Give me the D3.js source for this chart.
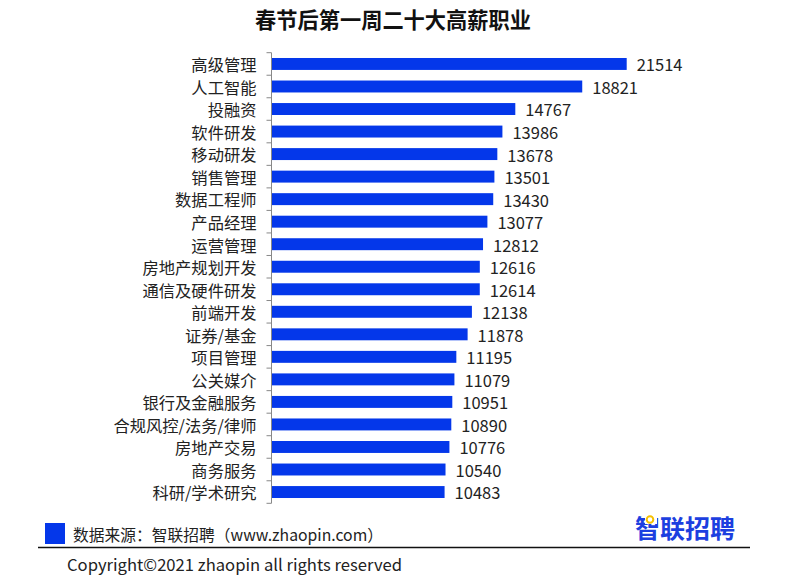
<!DOCTYPE html>
<html>
<head>
<meta charset="utf-8">
<script src="https://cdn.jsdelivr.net/npm/d3@7"></script>
<style>
  html, body { margin: 0; padding: 0; background: #fff; }
  svg { display: block; font-family: "Noto Sans CJK SC", "Noto Sans", sans-serif; }
</style>
</head>
<body>
<svg id="chart" width="791" height="587"></svg>
<script>
const title = "春节后第一周二十大高薪职业";
const categories = ["高级管理","人工智能","投融资","软件研发","移动研发","销售管理","数据工程师","产品经理","运营管理","房地产规划开发","通信及硬件研发","前端开发","证券/基金","项目管理","公关媒介","银行及金融服务","合规风控/法务/律师","房地产交易","商务服务","科研/学术研究"];
const salaries = [21514,18821,14767,13986,13678,13501,13430,13077,12812,12616,12614,12138,11878,11195,11079,10951,10890,10776,10540,10483];
const sourceText = "数据来源：智联招聘（www.zhaopin.com）";
const copyrightText = "Copyright©2021 zhaopin all rights reserved";
const logoText = "智联招聘";

const svg = d3.select("#chart");
const barColor = "#0437ea";

svg.append("text")
  .attr("x", 393).attr("y", 28)
  .attr("text-anchor", "middle")
  .attr("font-size", 21.5).attr("font-weight", "bold").attr("fill", "#111")
  .attr("textLength", 276).attr("lengthAdjust", "spacingAndGlyphs")
  .text(title);

const x0 = 271.5;
const x = d3.scaleLinear().domain([0, 21514]).range([x0, 626.7]);
const y = d3.scaleBand().domain(categories).range([52.7, 503.3]).paddingInner(0.47).paddingOuter(0.235);

// bars
svg.append("g").selectAll("rect").data(categories).join("rect")
  .attr("x", x(0) + 0.5)
  .attr("y", d => y(d))
  .attr("width", (d, i) => x(salaries[i]) - x(0) - 0.5)
  .attr("height", y.bandwidth())
  .attr("fill", barColor);

// value labels
svg.append("g").selectAll("text").data(categories).join("text")
  .attr("x", (d, i) => x(salaries[i]) + 10)
  .attr("y", d => y(d) + y.bandwidth() / 2)
  .attr("dy", "0.45em")
  .attr("font-size", 16.5).attr("fill", "#222")
  .text((d, i) => salaries[i]);

// axis with ticks between categories
const yAxisScale = d3.scaleBand().domain(categories).range([52.7, 503.3]);
const axisG = svg.append("g").attr("transform", `translate(${x0},0)`);
axisG.append("line").attr("x1", 0).attr("x2", 0).attr("y1", 52.7).attr("y2", 503.3)
  .attr("stroke", "#888").attr("stroke-width", 1);
const tickPos = categories.map(d => yAxisScale(d)).concat([503.3]);
axisG.selectAll("line.tick").data(tickPos).join("line").attr("class", "tick")
  .attr("x1", -5).attr("x2", 0).attr("y1", d => d).attr("y2", d => d)
  .attr("stroke", "#888").attr("stroke-width", 1);
axisG.selectAll("text").data(categories).join("text")
  .attr("x", -15)
  .attr("y", d => yAxisScale(d) + yAxisScale.bandwidth() / 2)
  .attr("dy", "0.45em")
  .attr("text-anchor", "end")
  .attr("font-size", 16.3).attr("fill", "#222")
  .text(d => d);

// footer
svg.append("rect").attr("x", 45).attr("y", 523).attr("width", 20).attr("height", 21).attr("fill", barColor);
svg.append("text").attr("x", 73).attr("y", 541)
  .attr("font-size", 16).attr("fill", "#222")
  .attr("textLength", 310).attr("lengthAdjust", "spacingAndGlyphs")
  .text(sourceText);
svg.append("line").attr("x1", 38).attr("x2", 750).attr("y1", 547.5).attr("y2", 547.5)
  .attr("stroke", "#111").attr("stroke-width", 1.5);
svg.append("text").attr("x", 67).attr("y", 571)
  .attr("font-size", 16.5).attr("fill", "#222")
  .attr("textLength", 335).attr("lengthAdjust", "spacingAndGlyphs")
  .text(copyrightText);

// logo
svg.append("text").attr("x", 635).attr("y", 538)
  .attr("font-size", 25).attr("font-weight", "bold").attr("fill", "#1c3fe0")
  .attr("textLength", 100).attr("lengthAdjust", "spacingAndGlyphs")
  .text(logoText);
svg.append("rect").attr("x", 645).attr("y", 515).attr("width", 12).attr("height", 9).attr("fill", "#fff");
svg.append("circle").attr("cx", 650).attr("cy", 519.5).attr("r", 3.3)
  .attr("fill", "none").attr("stroke", "#f5c000").attr("stroke-width", 2);
</script>
</body>
</html>
